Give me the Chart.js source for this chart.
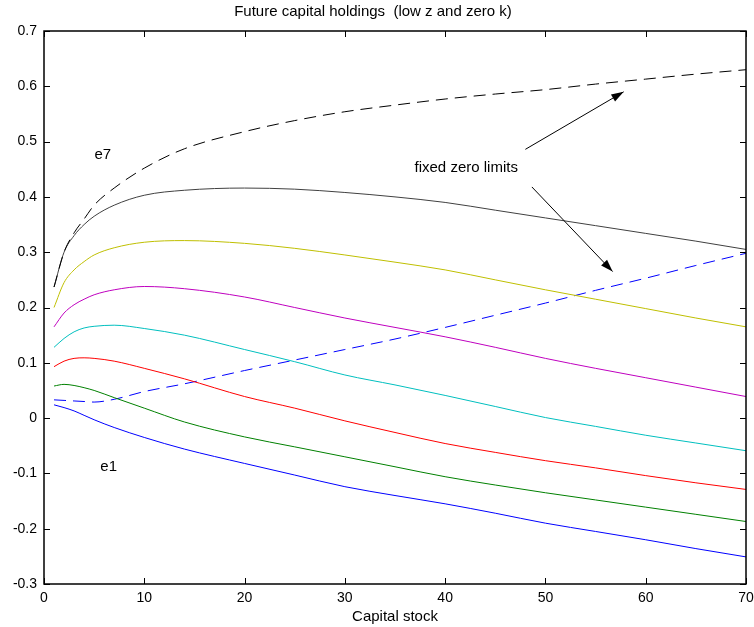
<!DOCTYPE html>
<html>
<head>
<meta charset="utf-8">
<script src="https://cdn.jsdelivr.net/npm/chart.js@4.4.1/dist/chart.umd.min.js"></script>
<style>
  html, body { margin: 0; padding: 0; background: #fff; }
  #wrap { width: 754px; height: 627px; }
</style>
</head>
<body>
<div id="wrap"><canvas id="chartCapital"></canvas></div>
<script>
// capital stock grid
const kValues = [1, 2, 3, 4, 5, 7, 10, 14, 20, 25, 30, 35, 40, 45, 50, 55, 60, 65, 70];

// e1 .. e7 policy curves
const e1 = [0.024, 0.019, 0.013, 0.005, -0.003, -0.017, -0.035, -0.056, -0.082, -0.103, -0.124, -0.140, -0.155, -0.172, -0.190, -0.205, -0.220, -0.236, -0.251];
const e2 = [0.058, 0.061, 0.059, 0.055, 0.050, 0.037, 0.018, -0.007, -0.034, -0.052, -0.070, -0.088, -0.106, -0.121, -0.135, -0.148, -0.161, -0.174, -0.187];
const e3 = [0.093, 0.103, 0.108, 0.109, 0.108, 0.103, 0.090, 0.071, 0.039, 0.018, -0.005, -0.026, -0.046, -0.062, -0.077, -0.090, -0.104, -0.117, -0.129];
const e4 = [0.128, 0.144, 0.156, 0.163, 0.166, 0.168, 0.162, 0.150, 0.124, 0.102, 0.078, 0.060, 0.041, 0.021, 0.001, -0.015, -0.031, -0.045, -0.059];
const e5 = [0.165, 0.190, 0.205, 0.215, 0.223, 0.232, 0.238, 0.234, 0.219, 0.200, 0.181, 0.164, 0.147, 0.128, 0.108, 0.090, 0.073, 0.056, 0.039];
const e6 = [0.200, 0.245, 0.268, 0.283, 0.295, 0.308, 0.318, 0.321, 0.316, 0.307, 0.295, 0.282, 0.268, 0.250, 0.232, 0.215, 0.198, 0.181, 0.165];
const e7 = [0.237, 0.300, 0.330, 0.350, 0.365, 0.385, 0.403, 0.412, 0.416, 0.414, 0.408, 0.400, 0.390, 0.376, 0.362, 0.348, 0.334, 0.320, 0.305];

// fixed zero limits (dashed)
const limiteBajo = [0.033, 0.032, 0.031, 0.030, 0.029, 0.034, 0.048, 0.062, 0.086, 0.105, 0.124, 0.143, 0.164, 0.186, 0.208, 0.231, 0.253, 0.276, 0.298];
const limiteAlto = [0.237, 0.300, 0.335, 0.360, 0.385, 0.416, 0.452, 0.487, 0.518, 0.538, 0.554, 0.566, 0.577, 0.586, 0.594, 0.604, 0.613, 0.622, 0.630];

const xTicks = [0, 10, 20, 30, 40, 50, 60, 70];
const yTicks = [-0.3, -0.2, -0.1, 0, 0.1, 0.2, 0.3, 0.4, 0.5, 0.6, 0.7];

function puntos(serie) {
    return kValues.map((k, i) => ({ x: k, y: serie[i] }));
}

function linea(serie, color, dash) {
    return {
        data: puntos(serie),
        borderColor: color,
        borderWidth: 1,
        borderDash: dash || [],
        pointRadius: 0,
        cubicInterpolationMode: 'monotone',
        fill: false
    };
}

// marco con ticks hacia adentro + anotaciones
const marcoPlugin = {
    id: 'marco',
    afterDatasetsDraw(chart) {
        const { ctx, chartArea: a, scales } = chart;
        const sx = scales.x, sy = scales.y;
        ctx.save();
        ctx.strokeStyle = '#000';
        ctx.lineWidth = 1;
        ctx.beginPath();
        xTicks.forEach(v => {
            const px = Math.round(sx.getPixelForValue(v)) + 0.5;
            ctx.moveTo(px, a.bottom); ctx.lineTo(px, a.bottom - 6);
            ctx.moveTo(px, a.top); ctx.lineTo(px, a.top + 6);
        });
        yTicks.forEach(v => {
            const py = Math.round(sy.getPixelForValue(v)) + 0.5;
            ctx.moveTo(a.left, py); ctx.lineTo(a.left + 6, py);
            ctx.moveTo(a.right, py); ctx.lineTo(a.right - 6, py);
        });
        ctx.stroke();
        ctx.lineWidth = 1.5;
        ctx.strokeRect(Math.round(a.left), Math.round(a.top), Math.round(a.right - a.left), Math.round(a.bottom - a.top));

        // textos
        ctx.fillStyle = '#000';
        ctx.font = '15px "Liberation Sans", Arial, sans-serif';
        ctx.textAlign = 'center';
        ctx.textBaseline = 'middle';
        ctx.fillText('e7', sx.getPixelForValue(5.86), sy.getPixelForValue(0.476));
        ctx.fillText('e1', sx.getPixelForValue(6.45), sy.getPixelForValue(-0.088));
        ctx.fillText('fixed zero limits', sx.getPixelForValue(42.1), sy.getPixelForValue(0.452));

        // flechas
        const flecha = (x0, y0, x1, y1) => {
            const p0 = [sx.getPixelForValue(x0), sy.getPixelForValue(y0)];
            const p1 = [sx.getPixelForValue(x1), sy.getPixelForValue(y1)];
            const ang = Math.atan2(p1[1] - p0[1], p1[0] - p0[0]);
            ctx.lineWidth = 1;
            ctx.beginPath();
            ctx.moveTo(p0[0], p0[1]); ctx.lineTo(p1[0], p1[1]);
            ctx.stroke();
            const len = 13, half = 0.32;
            ctx.beginPath();
            ctx.moveTo(p1[0], p1[1]);
            ctx.lineTo(p1[0] - len * Math.cos(ang - half), p1[1] - len * Math.sin(ang - half));
            ctx.lineTo(p1[0] - len * Math.cos(ang + half), p1[1] - len * Math.sin(ang + half));
            ctx.closePath();
            ctx.fill();
        };
        flecha(48.0, 0.486, 57.8, 0.590);
        flecha(48.65, 0.418, 56.7, 0.265);
        ctx.restore();
    }
};

const ctx = document.getElementById('chartCapital').getContext('2d');
Chart.defaults.font.family = '"Liberation Sans", Arial, sans-serif';
Chart.defaults.color = '#000';

new Chart(ctx, {
    type: 'line',
    data: {
        datasets: [
            linea(limiteAlto, '#000000', [12, 7]),
            linea(e7, '#404040'),
            linea(e6, '#bfbf00'),
            linea(e5, '#bf00bf'),
            linea(e4, '#00bfbf'),
            linea(e3, '#ff0000'),
            linea(e2, '#008000'),
            linea(e1, '#0000ff'),
            linea(limiteBajo, '#0000ff', [12, 7])
        ]
    },
    options: {
        responsive: true,
        maintainAspectRatio: false,
        animation: false,
        layout: { padding: { left: 0, right: 8, top: 0, bottom: 0 } },
        scales: {
            x: {
                type: 'linear',
                min: 0,
                max: 70,
                grid: { display: false, drawTicks: false },
                border: { display: false },
                afterBuildTicks: s => { s.ticks = xTicks.map(v => ({ value: v })); },
                ticks: { font: { size: 14 }, padding: 6, maxRotation: 0 },
                title: { display: true, text: 'Capital stock', font: { size: 15 }, padding: { top: 0, bottom: 1 } },
                afterFit: s => { s.height = 43; s.paddingLeft = 0; s.paddingRight = 0; }
            },
            y: {
                min: -0.3,
                max: 0.7,
                grid: { display: false, drawTicks: false },
                border: { display: false },
                afterBuildTicks: s => { s.ticks = yTicks.map(v => ({ value: v })); },
                ticks: {
                    font: { size: 14 },
                    padding: 7,
                    callback: v => (Math.abs(v) < 1e-9 ? '0' : String(Math.round(v * 10) / 10))
                },
                afterFit: s => { s.width = 44; }
            }
        },
        plugins: {
            legend: { display: false },
            tooltip: { enabled: false },
            title: {
                display: true,
                text: 'Future capital holdings  (low z and zero k)',
                font: { size: 15, weight: 'normal' },
                color: '#000',
                padding: { top: 3, bottom: 10 }
            }
        }
    },
    plugins: [marcoPlugin]
});
</script>
</body>
</html>
